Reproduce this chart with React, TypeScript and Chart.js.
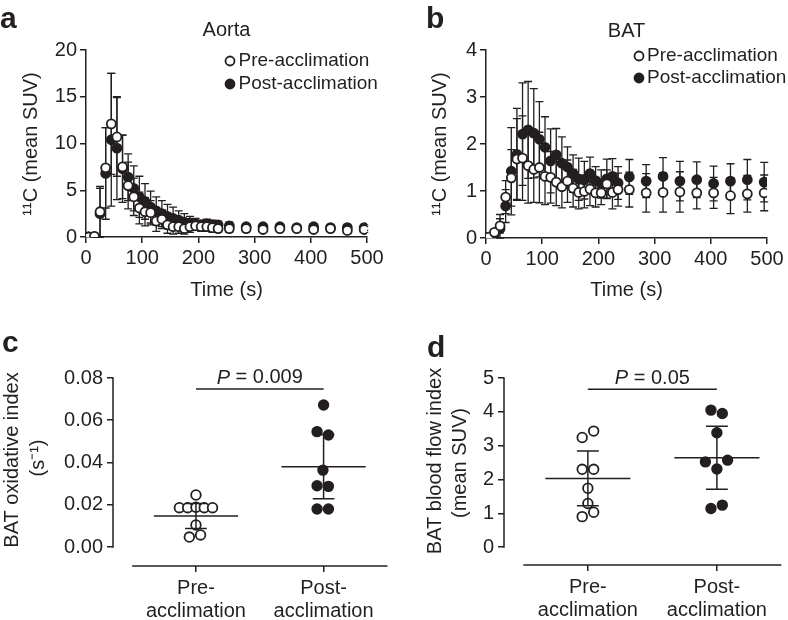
import React, { useEffect, useRef } from "react";
import { Chart, registerables } from "chart.js";
Chart.register(...registerables);

const FONT = "'Liberation Sans', Arial, Helvetica, sans-serif";
const INK = "#231f20";

// ---------- time-activity curves (a, b) ----------
const TIME_S = [5, 15, 25, 35, 45, 55, 65, 75, 85, 95, 105, 115, 125, 135, 145, 155, 165, 175, 185, 195, 205, 215, 225, 235, 255, 285, 315, 345, 375, 405, 435, 465, 495];

const AORTA_PRE = [0.0, 0.07, 2.7, 7.4, 12.1, 10.7, 7.5, 5.5, 4.3, 3.1, 2.7, 2.6, 1.7, 1.9, 1.3, 1.1, 1.1, 0.9, 1.1, 1.2, 1.1, 1.1, 1.0, 0.9, 0.9, 0.9, 0.8, 0.9, 0.9, 0.8, 0.9, 0.7, 0.8];
const AORTA_PRE_SD = [0, 0.1, 2.7, 4.3, 5.4, 4.2, 3.4, 2.5, 2.0, 1.7, 1.5, 1.3, 1.1, 1.0, 0.9, 0.8, 0.7, 0.6, 0.6, 0.5, 0.5, 0.5, 0.5, 0.4, 0.4, 0.35, 0.3, 0.3, 0.3, 0.3, 0.3, 0.3, 0.3];
const AORTA_POST = [0.0, 0.05, 2.5, 6.8, 10.4, 9.5, 7.3, 6.4, 5.2, 4.3, 3.8, 3.2, 2.8, 2.5, 2.2, 2.0, 1.8, 1.6, 1.5, 1.4, 1.3, 1.4, 1.3, 1.3, 1.2, 1.1, 1.1, 1.1, 1.0, 1.1, 1.0, 1.0, 1.0];
const AORTA_POST_SD = [0, 0.1, 2.7, 4.9, 7.1, 5.5, 3.6, 2.5, 2.4, 2.2, 1.9, 1.7, 1.5, 1.4, 1.3, 1.2, 1.0, 0.9, 0.7, 0.6, 0.5, 0.5, 0.5, 0.4, 0.4, 0.3, 0.3, 0.3, 0.3, 0.3, 0.3, 0.3, 0.3];

const BAT_PRE = [0.02, 0.12, 0.26, 0.87, 1.28, 1.68, 1.70, 1.54, 1.46, 1.50, 1.31, 1.29, 1.19, 1.09, 1.21, 1.06, 0.97, 0.99, 1.04, 0.96, 0.96, 1.15, 0.97, 1.03, 1.03, 0.96, 0.97, 0.98, 0.96, 0.96, 0.90, 0.94, 0.96];
const BAT_PRE_SD = [0, 0.05, 0.15, 0.35, 0.6, 0.86, 0.9, 0.8, 0.7, 0.75, 0.6, 0.55, 0.5, 0.45, 0.45, 0.4, 0.35, 0.35, 0.35, 0.3, 0.25, 0.3, 0.35, 0.35, 0.37, 0.41, 0.42, 0.43, 0.34, 0.33, 0.38, 0.39, 0.38];
const BAT_POST = [0.0, 0.08, 0.2, 0.68, 1.42, 1.78, 2.21, 2.30, 2.23, 2.10, 1.93, 1.64, 1.77, 1.59, 1.51, 1.37, 1.25, 1.23, 1.37, 1.22, 1.15, 1.26, 1.31, 1.17, 1.30, 1.21, 1.31, 1.21, 1.24, 1.16, 1.21, 1.24, 1.19];
const BAT_POST_SD = [0, 0.05, 0.3, 0.35, 0.93, 0.98, 1.09, 1.03, 0.95, 0.8, 0.65, 0.68, 0.56, 0.56, 0.43, 0.4, 0.45, 0.4, 0.35, 0.3, 0.3, 0.42, 0.38, 0.35, 0.37, 0.35, 0.4, 0.42, 0.38, 0.37, 0.37, 0.43, 0.42];

const SERIES_NAMES = ["Pre-acclimation", "Post-acclimation"];

// ---------- dot plots (c, d) ----------
const GROUP_LABELS = [["Pre-", "acclimation"], ["Post-", "acclimation"]];

const OXI_PRE = [0.0246, 0.0186, 0.0186, 0.0188, 0.0186, 0.0186, 0.0104, 0.0047, 0.0057];
const OXI_PRE_JITTER = [0, -0.13, -0.065, 0, 0.065, 0.13, 0, -0.052, 0.036];
const OXI_POST = [0.0672, 0.0546, 0.053, 0.0364, 0.029, 0.0287, 0.018, 0.018];
const OXI_POST_JITTER = [0, -0.051, 0.038, -0.005, -0.051, 0.038, -0.051, 0.038];
const OXI_MEAN = [0.0147, 0.038];
const OXI_SD = [0.0059, 0.0152];
const OXI_TICKS = [0, 0.02, 0.04, 0.06, 0.08];
const OXI_P = "0.009";

const FLOW_PRE = [3.24, 3.43, 2.3, 2.3, 1.74, 1.29, 0.9, 1.03];
const FLOW_PRE_JITTER = [-0.044, 0.045, -0.044, 0.045, 0, 0, -0.044, 0.045];
const FLOW_POST = [4.05, 3.95, 3.38, 2.52, 2.57, 2.31, 1.14, 1.24];
const FLOW_POST_JITTER = [-0.046, 0.042, 0, -0.089, 0.083, 0, -0.046, 0.042];
const FLOW_MEAN = [2.03, 2.64];
const FLOW_SD = [0.81, 0.93];
const FLOW_TICKS = [0, 1, 2, 3, 4, 5];
const FLOW_P = "0.05";

// ---------- helpers ----------
type Part = { t: string; italic?: boolean };
type Item = {
  parts: string | Part[];
  x: number;
  y: number;
  size?: number;
  bold?: boolean;
  align?: "left" | "center" | "right";
  base?: CanvasTextBaseline;
  rot?: boolean;
};
type Dot = { x: number; y: number; filled: boolean };

function drawItems(ctx: CanvasRenderingContext2D, items: Item[]) {
  for (const it of items) {
    ctx.save();
    ctx.translate(it.x, it.y);
    if (it.rot) ctx.rotate(-Math.PI / 2);
    ctx.fillStyle = INK;
    ctx.textBaseline = it.base ?? "middle";
    ctx.textAlign = "left";
    const parts: Part[] = typeof it.parts === "string" ? [{ t: it.parts }] : it.parts;
    const size = it.size ?? 20;
    const fontOf = (p: Part) => `${p.italic ? "italic " : ""}${it.bold ? "bold " : ""}${size}px ${FONT}`;
    let total = 0;
    const ws = parts.map((p) => {
      ctx.font = fontOf(p);
      const w = ctx.measureText(p.t).width;
      total += w;
      return w;
    });
    let x0 = it.align === "left" ? 0 : it.align === "right" ? -total : -total / 2;
    parts.forEach((p, i) => {
      ctx.font = fontOf(p);
      ctx.fillText(p.t, x0, 0);
      x0 += ws[i];
    });
    ctx.restore();
  }
}

function drawDot(ctx: CanvasRenderingContext2D, d: Dot, r = 4.5) {
  ctx.save();
  ctx.beginPath();
  ctx.arc(d.x, d.y, r, 0, Math.PI * 2);
  ctx.fillStyle = d.filled ? INK : "#ffffff";
  ctx.fill();
  ctx.lineWidth = 1.8;
  ctx.strokeStyle = INK;
  ctx.stroke();
  ctx.restore();
}

const textPlugin = (items: Item[], dots: Dot[] = []) => ({
  id: "textOverlay",
  afterDraw(chart: any) {
    const ctx = chart.ctx as CanvasRenderingContext2D;
    drawItems(ctx, items);
    dots.forEach((d) => drawDot(ctx, d));
  },
});

type ErrSet = { x: number[]; y: number[]; sd: number[] };
const timeErrPlugin = (sets: ErrSet[]) => ({
  id: "timeErr",
  beforeDatasetsDraw(chart: any) {
    const { ctx, scales } = chart;
    const xs = scales.x, ys = scales.y;
    ctx.save();
    ctx.strokeStyle = INK;
    ctx.lineWidth = 1.3;
    for (const s of sets) {
      s.x.forEach((xv, i) => {
        if (!s.sd[i]) return;
        const px = xs.getPixelForValue(xv);
        const hi = ys.getPixelForValue(s.y[i] + s.sd[i]);
        const lo = ys.getPixelForValue(Math.max(0, s.y[i] - s.sd[i]));
        ctx.beginPath();
        ctx.moveTo(px, hi);
        ctx.lineTo(px, lo);
        ctx.moveTo(px - 4, hi);
        ctx.lineTo(px + 4, hi);
        ctx.moveTo(px - 4, lo);
        ctx.lineTo(px + 4, lo);
        ctx.stroke();
      });
    }
    ctx.restore();
  },
});

type DotOpts = { means: number[]; sds: number[]; yMax: number; pY: number; pText: string };
const dotOverlayPlugin = (o: DotOpts) => ({
  id: "dotOverlay",
  afterDatasetsDraw(chart: any) {
    const { ctx, scales, chartArea } = chart;
    const xs = scales.x, ys = scales.y;
    ctx.save();
    ctx.strokeStyle = INK;
    ctx.lineWidth = 1.5;
    // axes
    ctx.beginPath();
    ctx.moveTo(chartArea.left, ys.getPixelForValue(0) + 0.75);
    ctx.lineTo(chartArea.left, ys.getPixelForValue(o.yMax) - 0.75);
    ctx.moveTo(xs.getPixelForValue(0.5), chartArea.bottom);
    ctx.lineTo(xs.getPixelForValue(2.5), chartArea.bottom);
    ctx.stroke();
    // mean and SD
    o.means.forEach((m, g) => {
      const c = g + 1;
      const py = ys.getPixelForValue(m);
      const hi = ys.getPixelForValue(m + o.sds[g]);
      const lo = ys.getPixelForValue(m - o.sds[g]);
      const pc = xs.getPixelForValue(c);
      ctx.beginPath();
      ctx.moveTo(xs.getPixelForValue(c - 0.33), py);
      ctx.lineTo(xs.getPixelForValue(c + 0.33), py);
      ctx.moveTo(pc, hi);
      ctx.lineTo(pc, lo);
      ctx.moveTo(xs.getPixelForValue(c - 0.085), hi);
      ctx.lineTo(xs.getPixelForValue(c + 0.085), hi);
      ctx.moveTo(xs.getPixelForValue(c - 0.085), lo);
      ctx.lineTo(xs.getPixelForValue(c + 0.085), lo);
      ctx.stroke();
    });
    // significance bar
    const by = ys.getPixelForValue(o.pY);
    ctx.beginPath();
    ctx.moveTo(xs.getPixelForValue(1), by);
    ctx.lineTo(xs.getPixelForValue(2), by);
    ctx.stroke();
    ctx.restore();
    drawItems(ctx, [
      { parts: [{ t: "P", italic: true }, { t: " = " + o.pText }], x: (xs.getPixelForValue(1) + xs.getPixelForValue(2)) / 2, y: by - 11 },
    ]);
  },
});

const tickFont = { family: FONT, size: 20 };

function timeConfig(p: {
  pre: number[]; preSd: number[]; post: number[]; postSd: number[];
  yMax: number; yStep: number; yWidth: number; xHeight: number; padTop: number; padRight: number;
  items: Item[]; dots: Dot[];
}) {
  const pts = (arr: number[]) => TIME_S.map((t, i) => ({ x: t, y: arr[i] }));
  return {
    type: "scatter",
    data: {
      datasets: [
        { label: SERIES_NAMES[0], data: pts(p.pre), pointRadius: 4.5, pointBorderWidth: 1.8, pointBackgroundColor: "#ffffff", pointBorderColor: INK },
        { label: SERIES_NAMES[1], data: pts(p.post), pointRadius: 4.5, pointBorderWidth: 1.8, pointBackgroundColor: INK, pointBorderColor: INK },
      ],
    },
    options: {
      responsive: false,
      animation: false,
      events: [],
      layout: { padding: { top: p.padTop, right: p.padRight, left: 0, bottom: 0 } },
      plugins: { legend: { display: false }, tooltip: { enabled: false }, title: { display: false } },
      scales: {
        x: {
          type: "linear", min: 0, max: 500,
          ticks: { stepSize: 100, color: INK, font: tickFont, padding: 3, maxRotation: 0 },
          grid: { drawOnChartArea: false, drawTicks: true, tickLength: 6, color: INK, lineWidth: 1.5 },
          border: { display: true, color: INK, width: 1.5 },
          afterFit: (s: any) => { s.height = p.xHeight; },
        },
        y: {
          type: "linear", min: 0, max: p.yMax,
          ticks: { stepSize: p.yStep, color: INK, font: tickFont, padding: 3 },
          grid: { drawOnChartArea: false, drawTicks: true, tickLength: 6, color: INK, lineWidth: 1.5 },
          border: { display: true, color: INK, width: 1.5 },
          afterFit: (s: any) => { s.width = p.yWidth; },
        },
      },
    },
    plugins: [
      timeErrPlugin([
        { x: TIME_S, y: p.post, sd: p.postSd },
        { x: TIME_S, y: p.pre, sd: p.preSd },
      ]),
      textPlugin(p.items, p.dots),
    ],
  };
}

function dotConfig(p: {
  pre: number[]; preJit: number[]; post: number[]; postJit: number[];
  means: number[]; sds: number[]; yMin: number; yMax: number; yTicks: number[]; decimals: number;
  pY: number; pText: string; yWidth: number; xHeight: number; padTop: number; items: Item[];
}) {
  const pts = (g: number, arr: number[], jit: number[]) => arr.map((v, i) => ({ x: g + jit[i], y: v }));
  return {
    type: "scatter",
    data: {
      datasets: [
        { label: SERIES_NAMES[0], data: pts(1, p.pre, p.preJit), pointRadius: 4.8, pointBorderWidth: 1.8, pointBackgroundColor: "#ffffff", pointBorderColor: INK },
        { label: SERIES_NAMES[1], data: pts(2, p.post, p.postJit), pointRadius: 4.8, pointBorderWidth: 1.8, pointBackgroundColor: INK, pointBorderColor: INK },
      ],
    },
    options: {
      responsive: false,
      animation: false,
      events: [],
      layout: { padding: { top: p.padTop, right: 0, left: 0, bottom: 0 } },
      plugins: { legend: { display: false }, tooltip: { enabled: false }, title: { display: false } },
      scales: {
        x: {
          type: "linear", min: 0.35, max: 2.5,
          afterBuildTicks: (s: any) => { s.ticks = [{ value: 1 }, { value: 2 }]; },
          ticks: {
            color: INK, font: { ...tickFont, lineHeight: 1.15 }, padding: 5, maxRotation: 0, autoSkip: false,
            callback: (_v: any, i: number) => GROUP_LABELS[i],
          },
          grid: { drawOnChartArea: false, drawTicks: true, tickLength: 6, color: INK, lineWidth: 1.5 },
          border: { display: false },
          afterFit: (s: any) => { s.height = p.xHeight; },
        },
        y: {
          type: "linear", min: p.yMin, max: p.yMax,
          afterBuildTicks: (s: any) => { s.ticks = p.yTicks.map((v) => ({ value: v })); },
          ticks: { color: INK, font: tickFont, padding: 4, callback: (v: any) => Number(v).toFixed(p.decimals) },
          grid: { drawOnChartArea: false, drawTicks: true, tickLength: 6, color: INK, lineWidth: 1.5 },
          border: { display: false },
          afterFit: (s: any) => { s.width = p.yWidth; },
        },
      },
    },
    plugins: [
      dotOverlayPlugin({ means: p.means, sds: p.sds, yMax: p.yMax, pY: p.pY, pText: p.pText }),
      textPlugin(p.items),
    ],
  };
}

function Panel({ left, top, width, height, build }: { left: number; top: number; width: number; height: number; build: () => any }) {
  const ref = useRef<HTMLCanvasElement>(null);
  useEffect(() => {
    const chart = new Chart(ref.current as HTMLCanvasElement, build());
    return () => chart.destroy();
  }, []);
  return (
    <div style={{ position: "absolute", left, top, width, height }}>
      <canvas ref={ref} width={width} height={height} style={{ width, height, display: "block" }} />
    </div>
  );
}

export default function App() {
  const buildA = () =>
    timeConfig({
      pre: AORTA_PRE, preSd: AORTA_PRE_SD, post: AORTA_POST, postSd: AORTA_POST_SD,
      yMax: 20, yStep: 5, yWidth: 86, xHeight: 73, padTop: 50, padRight: 27,
      items: [
        { parts: "a", x: 0, y: 28, size: 30, bold: true, align: "left", base: "alphabetic" },
        { parts: "Aorta", x: 226.5, y: 30 },
        { parts: "¹¹C (mean SUV)", x: 31, y: 144, rot: true },
        { parts: "Time (s)", x: 226.5, y: 290 },
        { parts: SERIES_NAMES[0], x: 238.5, y: 61, size: 19, align: "left" },
        { parts: SERIES_NAMES[1], x: 238.5, y: 84, size: 19, align: "left" },
      ],
      dots: [
        { x: 230, y: 61, filled: false },
        { x: 230, y: 84, filled: true },
      ],
    });
  const buildB = () =>
    timeConfig({
      pre: BAT_PRE, preSd: BAT_PRE_SD, post: BAT_POST, postSd: BAT_POST_SD,
      yMax: 4, yStep: 1, yWidth: 92, xHeight: 72, padTop: 50, padRight: 21,
      items: [
        { parts: "b", x: 32, y: 28, size: 30, bold: true, align: "left", base: "alphabetic" },
        { parts: "BAT", x: 232.5, y: 31 },
        { parts: "¹¹C (mean SUV)", x: 46, y: 144, rot: true },
        { parts: "Time (s)", x: 232.5, y: 290 },
        { parts: SERIES_NAMES[0], x: 253, y: 56, size: 19, align: "left" },
        { parts: SERIES_NAMES[1], x: 253, y: 78, size: 19, align: "left" },
      ],
      dots: [
        { x: 245, y: 56, filled: false },
        { x: 245, y: 78, filled: true },
      ],
    });
  const buildC = () =>
    dotConfig({
      pre: OXI_PRE, preJit: OXI_PRE_JITTER, post: OXI_POST, postJit: OXI_POST_JITTER,
      means: OXI_MEAN, sds: OXI_SD, yMin: -0.009, yMax: 0.08, yTicks: OXI_TICKS, decimals: 2,
      pY: 0.0748, pText: OXI_P, yWidth: 113, xHeight: 54, padTop: 58,
      items: [
        { parts: "c", x: 2, y: 32, size: 30, bold: true, align: "left", base: "alphabetic" },
        { parts: "BAT oxidative index", x: 12, y: 140, rot: true },
        { parts: "(s⁻¹)", x: 38, y: 138, rot: true },
      ],
    });
  const buildD = () =>
    dotConfig({
      pre: FLOW_PRE, preJit: FLOW_PRE_JITTER, post: FLOW_POST, postJit: FLOW_POST_JITTER,
      means: FLOW_MEAN, sds: FLOW_SD, yMin: -0.53, yMax: 5, yTicks: FLOW_TICKS, decimals: 0,
      pY: 4.67, pText: FLOW_P, yWidth: 110, xHeight: 55, padTop: 58,
      items: [
        { parts: "d", x: 33, y: 37, size: 30, bold: true, align: "left", base: "alphabetic" },
        { parts: "BAT blood flow index", x: 41.5, y: 141, rot: true },
        { parts: "(mean SUV)", x: 66.5, y: 143, rot: true },
      ],
    });
  return (
    <div style={{ position: "absolute", left: 0, top: 0, width: 788, height: 620, background: "#ffffff", overflow: "hidden" }}>
      <Panel left={0} top={0} width={394} height={310} build={buildA} />
      <Panel left={394} top={0} width={394} height={310} build={buildB} />
      <Panel left={0} top={320} width={394} height={300} build={buildC} />
      <Panel left={394} top={320} width={394} height={300} build={buildD} />
    </div>
  );
}
